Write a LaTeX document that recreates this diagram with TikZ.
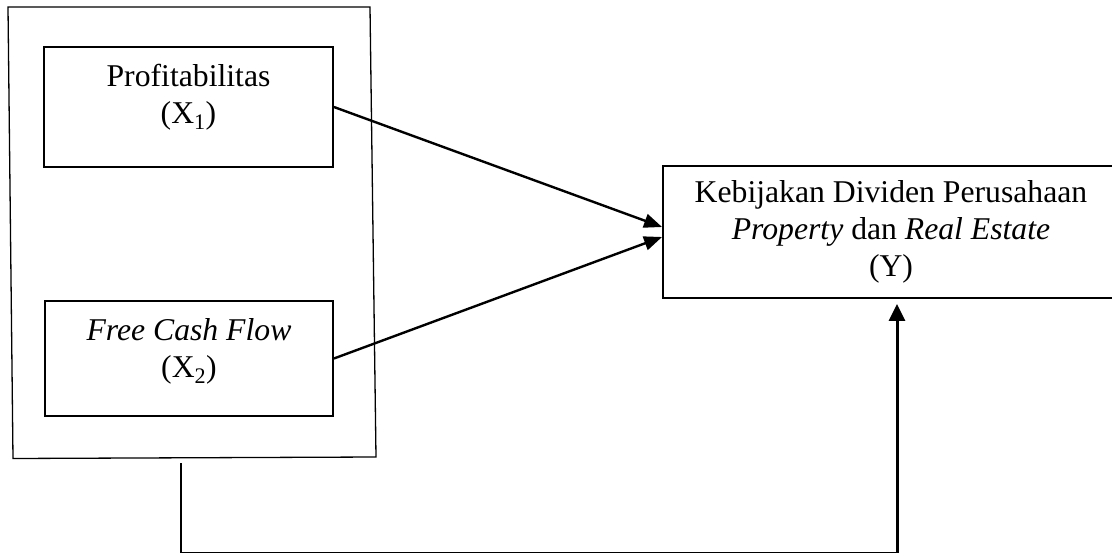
\documentclass[tikz,border=0pt]{standalone}
\usepackage{fontspec}
\setmainfont{Liberation Serif}
\usetikzlibrary{arrows.meta,positioning}

\begin{document}
\begin{tikzpicture}[
  x=1pt, y=-1pt,
  box/.style={rectangle, draw=black, line width=1.9pt, inner sep=0pt},
  txt/.style={align=center, font=\fontsize{31.7}{37}\selectfont, inner sep=0pt},
  arr/.style={-{Triangle[length=18pt,width=14pt]}, line width=2.4pt},
  grpline/.style={draw=black, line width=1.3pt}
]
\useasboundingbox (0,0) rectangle (1112,554);
\clip (0,0) rectangle (1112,554);
% frame round the two X variables
\draw[grpline] (8,7) -- (370,7) -- (376,457) -- (13,458.5) -- cycle;
% variables
\node[box, minimum width=289pt, minimum height=120pt] (x1) at (188.5,107) {};
\node[txt] (x1lbl) at (188.5,97) {Profitabilitas\\(X\textsubscript{1})};
\node[box, minimum width=288pt, minimum height=115pt] (x2) at (189,358.5) {};
\node[txt] (x2lbl) at (189,351) {\textit{Free Cash Flow}\\(X\textsubscript{2})};
\node[box, txt, minimum width=456pt, minimum height=132pt] (y) at (891,232)
  {Kebijakan Dividen Perusahaan\\\textit{Property} dan \textit{Real Estate}\\(Y)};
% partial effects
\draw[arr] (x1.east) -- ([yshift=5pt]y.west);
\draw[arr] (x2.east) -- ([yshift=-5pt]y.west);
% simultaneous effect
\coordinate (fbstart) at (181,463);
\coordinate (fbcorner) at (897,552.5);
\draw[line width=1.7pt] (fbstart) |- (fbcorner);
\draw[arr, -{Triangle[length=17pt,width=16pt]}, line width=3pt] (fbcorner) -- ([xshift=6pt,yshift=-5pt]y.south);
\end{tikzpicture}
\end{document}
